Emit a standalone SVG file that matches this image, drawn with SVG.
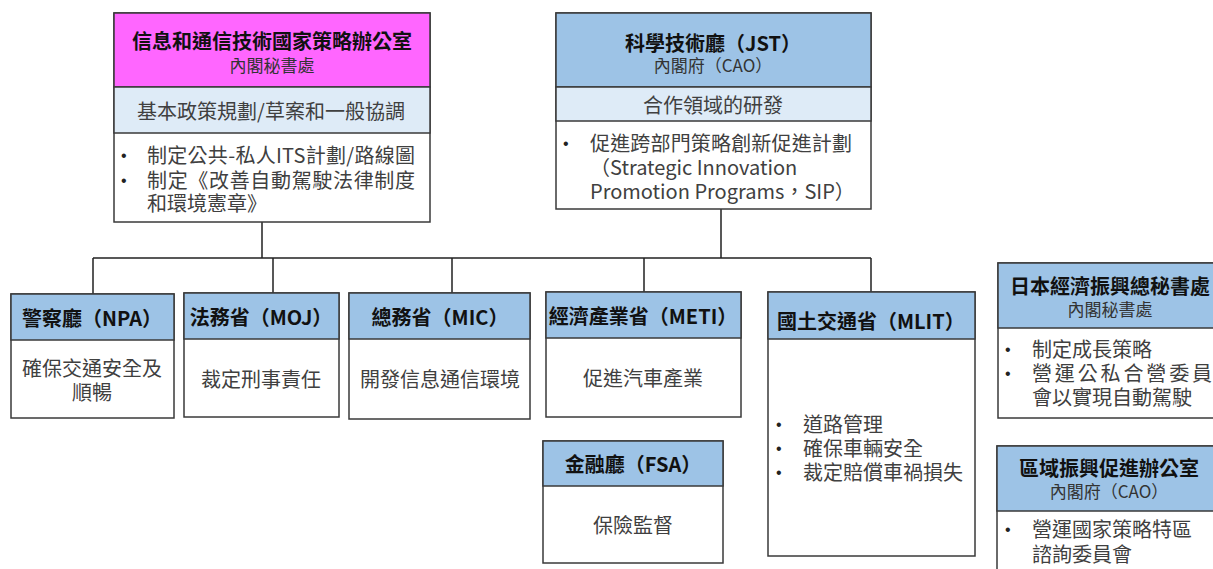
<svg xmlns="http://www.w3.org/2000/svg" width="1213" height="569" viewBox="0 0 1213 569">
<style>
  .box{fill:#fff;stroke:#3a3a3a;stroke-width:1.5}
  .hdr{fill:#9DC3E6;stroke:#3a3a3a;stroke-width:1.5}
  .mag{fill:#FF66FF;stroke:#3a3a3a;stroke-width:1.5}
  .sub{fill:#DEEBF7;stroke:#3a3a3a;stroke-width:1.5}
  text{font-family:"Noto Sans CJK TC","Noto Sans CJK SC",sans-serif;dominant-baseline:central}
  .t{font-size:20px;font-weight:bold;fill:#111}
  .s{font-size:17px;fill:#333}
  .b{font-size:20px;fill:#404040}
  .d{font-family:"Liberation Sans",sans-serif;font-size:16px;fill:#222}
  .c{text-anchor:middle}
  .con{fill:none;stroke:#222;stroke-width:1.5}
</style>
<g id="connectors">
  <path class="con" d="M262 222V258M721 209V258M93 258H871M93 258V294M273 258V293M452 258V293M644 258V292M871 258V292"/>
</g>
<g id="nisc">
  <rect class="box" x="114" y="13" width="316" height="209"/>
  <rect class="mag" x="114" y="13" width="316" height="74"/>
  <rect class="sub" x="114" y="87" width="316" height="46"/>
  <text class="t c" x="272" y="40">信息和通信技術國家策略辦公室</text>
  <text class="s c" x="272" y="64">內閣秘書處</text>
  <text class="b c" x="271" y="110">基本政策規劃/草案和一般協調</text>
  <text class="d" x="121" y="155">•</text>
  <text class="b" x="147" y="154" textLength="268" lengthAdjust="spacing">制定公共-私人ITS計劃/路線圖</text>
  <text class="d" x="121" y="180">•</text>
  <text class="b" x="147" y="179" textLength="268" lengthAdjust="spacing">制定《改善自動駕駛法律制度</text>
  <text class="b" x="147" y="202">和環境憲章》</text>
</g>
<g id="jst">
  <rect class="box" x="556" y="13" width="315" height="196"/>
  <rect class="hdr" x="556" y="13" width="315" height="74"/>
  <rect class="sub" x="556" y="87" width="315" height="34"/>
  <text class="t c" x="713" y="42">科學技術廳（JST）</text>
  <text class="s c" x="713" y="64">內閣府（CAO）</text>
  <text class="b c" x="713" y="104">合作領域的研發</text>
  <text class="d" x="563" y="143">•</text>
  <text class="b" x="590" y="142" textLength="262" lengthAdjust="spacing">促進跨部門策略創新促進計劃</text>
  <text class="b" x="590" y="166">（Strategic Innovation</text>
  <text class="b" x="590" y="190">Promotion Programs，SIP）</text>
</g>
<g id="npa">
  <rect class="box" x="11" y="294" width="163" height="124"/>
  <rect class="hdr" x="11" y="294" width="163" height="46"/>
  <text class="t c" x="92" y="317">警察廳（NPA）</text>
  <text class="b c" x="92" y="367">確保交通安全及</text>
  <text class="b c" x="92" y="391">順暢</text>
</g>
<g id="moj">
  <rect class="box" x="184" y="293" width="155" height="124"/>
  <rect class="hdr" x="184" y="293" width="155" height="46"/>
  <text class="t c" x="261" y="316">法務省（MOJ）</text>
  <text class="b c" x="261" y="378">裁定刑事責任</text>
</g>
<g id="mic">
  <rect class="box" x="349" y="293" width="181" height="126"/>
  <rect class="hdr" x="349" y="293" width="181" height="46"/>
  <text class="t c" x="440" y="316">總務省（MIC）</text>
  <text class="b c" x="440" y="378">開發信息通信環境</text>
</g>
<g id="meti">
  <rect class="box" x="546" y="292" width="195" height="125"/>
  <rect class="hdr" x="546" y="292" width="195" height="46"/>
  <text class="t c" x="643" y="315">經濟產業省（METI）</text>
  <text class="b c" x="643" y="377">促進汽車產業</text>
</g>
<g id="fsa">
  <rect class="box" x="543" y="441" width="180" height="122"/>
  <rect class="hdr" x="543" y="441" width="180" height="45"/>
  <text class="t c" x="633" y="463">金融廳（FSA）</text>
  <text class="b c" x="633" y="524">保險監督</text>
</g>
<g id="mlit">
  <rect class="box" x="768" y="292" width="207" height="264"/>
  <rect class="hdr" x="768" y="292" width="207" height="47"/>
  <text class="t" x="777" y="320">國土交通省（MLIT）</text>
  <text class="d" x="776" y="424">•</text>
  <text class="b" x="803" y="423">道路管理</text>
  <text class="d" x="776" y="448">•</text>
  <text class="b" x="803" y="447">確保車輛安全</text>
  <text class="d" x="776" y="472">•</text>
  <text class="b" x="803" y="471">裁定賠償車禍損失</text>
</g>
<g id="jer">
  <rect class="box" x="998" y="263" width="230" height="155"/>
  <rect class="hdr" x="998" y="263" width="230" height="65"/>
  <text class="t c" x="1110" y="285">日本經濟振興總秘書處</text>
  <text class="s c" x="1110" y="308">內閣秘書處</text>
  <text class="d" x="1005" y="349">•</text>
  <text class="b" x="1032" y="348">制定成長策略</text>
  <text class="d" x="1005" y="373">•</text>
  <text class="b" x="1032" y="372" textLength="180" lengthAdjust="spacing">營運公私合營委員</text>
  <text class="b" x="1032" y="396">會以實現自動駕駛</text>
</g>
<g id="regional">
  <rect class="box" x="997" y="446" width="230" height="140"/>
  <rect class="hdr" x="997" y="446" width="230" height="65"/>
  <text class="t c" x="1109" y="467">區域振興促進辦公室</text>
  <text class="s c" x="1109" y="490">內閣府（CAO）</text>
  <text class="d" x="1005" y="529">•</text>
  <text class="b" x="1032" y="528">營運國家策略特區</text>
  <text class="b" x="1032" y="553">諮詢委員會</text>
</g>
</svg>
